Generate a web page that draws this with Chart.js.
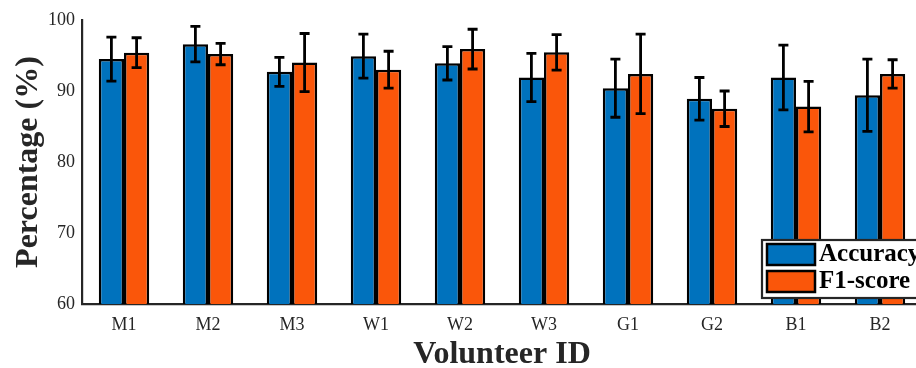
<!DOCTYPE html>
<html>
<head>
<meta charset="utf-8">
<script src="https://cdn.jsdelivr.net/npm/chart.js@4/dist/chart.umd.min.js"></script>
<style>
  html, body { margin: 0; padding: 0; background: #fff; overflow: hidden; }
  canvas { display: block; }
</style>
</head>
<body>
<canvas id="c" width="940" height="368"></canvas>
<script>
const labels = ['M1', 'M2', 'M3', 'W1', 'W2', 'W3', 'G1', 'G2', 'B1', 'B2'];
const accuracy = [94.5, 96.6, 92.7, 94.9, 93.9, 91.9, 90.4, 88.9, 91.9, 89.4];
const accuracyErr = [3.1, 2.5, 2.05, 3.1, 2.35, 3.4, 4.1, 3.0, 4.55, 5.1];
const f1 = [95.4, 95.2, 94.0, 93.0, 95.9, 95.45, 92.4, 87.5, 87.8, 92.4];
const f1Err = [2.1, 1.5, 4.1, 2.6, 2.8, 2.5, 5.6, 2.5, 3.55, 2.0];
const yTicks = [60, 70, 80, 90, 100];

const BLUE = 'rgb(0,114,189)';
const ORANGE = 'rgb(250,86,10)';
const SERIF = '"Liberation Serif", "Times New Roman", serif';

// whiskers: mean ± deviation, drawn from the bar elements and the y scale
const errorBars = {
  id: 'errorBars',
  afterDatasetsDraw(chart) {
    const ctx = chart.ctx;
    const y = chart.scales.y;
    ctx.save();
    ctx.strokeStyle = '#000';
    ctx.lineWidth = 2.8;
    chart.data.datasets.forEach((ds, i) => {
      const meta = chart.getDatasetMeta(i);
      meta.data.forEach((bar, j) => {
        const v = ds.data[j], e = ds.errors[j];
        const yt = y.getPixelForValue(v + e);
        const yb = y.getPixelForValue(v - e);
        const cap = 5;
        ctx.beginPath();
        ctx.moveTo(bar.x, yt); ctx.lineTo(bar.x, yb);
        ctx.moveTo(bar.x - cap, yt); ctx.lineTo(bar.x + cap, yt);
        ctx.moveTo(bar.x - cap, yb); ctx.lineTo(bar.x + cap, yb);
        ctx.stroke();
      });
    });
    ctx.restore();
  }
};

// boxed legend in the lower right corner of the plot
const boxLegend = {
  id: 'boxLegend',
  afterDraw(chart) {
    const ctx = chart.ctx;
    const x0 = 762, y0 = 240, h = 58;
    ctx.save();
    ctx.fillStyle = '#fff';
    ctx.fillRect(x0, y0, 200, h);
    ctx.strokeStyle = '#262626';
    ctx.lineWidth = 2.2;
    ctx.strokeRect(x0, y0, 200, h);
    ctx.font = 'bold 25px ' + SERIF;
    ctx.textBaseline = 'middle';
    ctx.textAlign = 'left';
    chart.data.datasets.forEach((ds, i) => {
      const sy = y0 + 4 + i * 27;
      ctx.fillStyle = ds.backgroundColor;
      ctx.fillRect(767, sy, 48, 21);
      ctx.strokeStyle = '#000';
      ctx.lineWidth = 2.5;
      ctx.strokeRect(767, sy, 48, 21);
      ctx.fillStyle = '#000';
      ctx.fillText(ds.label, 819, sy + 11);
    });
    ctx.restore();
  }
};

new Chart(document.getElementById('c'), {
  type: 'bar',
  data: {
    labels: labels,
    datasets: [
      { label: 'Accuracy', data: accuracy, errors: accuracyErr, backgroundColor: BLUE,
        borderColor: '#000', borderWidth: 2.5, borderSkipped: false },
      { label: 'F1-score', data: f1, errors: f1Err, backgroundColor: ORANGE,
        borderColor: '#000', borderWidth: 2.5, borderSkipped: false }
    ]
  },
  options: {
    responsive: false,
    animation: false,
    devicePixelRatio: 1,
    layout: { padding: { left: 0, top: 20, right: 18, bottom: 0 } },
    datasets: { bar: { categoryPercentage: 0.6, barPercentage: 1.0 } },
    plugins: { legend: { display: false }, tooltip: { enabled: false } },
    scales: {
      x: {
        grid: { display: false, drawTicks: false },
        border: { display: true, color: '#262626', width: 2.2 },
        ticks: { color: '#262626', padding: 10, font: { family: SERIF, size: 18 } },
        title: { display: true, text: 'Volunteer ID', color: '#262626',
                 font: { family: SERIF, size: 32, weight: 'bold', lineHeight: 0.8 }, padding: 0 },
        afterFit(scale) { scale.height = 64; }
      },
      y: {
        min: 60, max: 100,
        grid: { display: false, drawTicks: false },
        border: { display: true, color: '#262626', width: 2.2 },
        afterBuildTicks(scale) { scale.ticks = yTicks.map(v => ({ value: v })); },
        ticks: { color: '#262626', padding: 7, font: { family: SERIF, size: 18 } },
        title: { display: true, text: 'Percentage (%)', color: '#262626',
                 font: { family: SERIF, size: 32, weight: 'bold', lineHeight: 1.0 },
                 padding: { top: 13, bottom: 0 } },
        afterFit(scale) { scale.width = 82; }
      }
    }
  },
  plugins: [errorBars, boxLegend]
});
</script>
</body>
</html>
